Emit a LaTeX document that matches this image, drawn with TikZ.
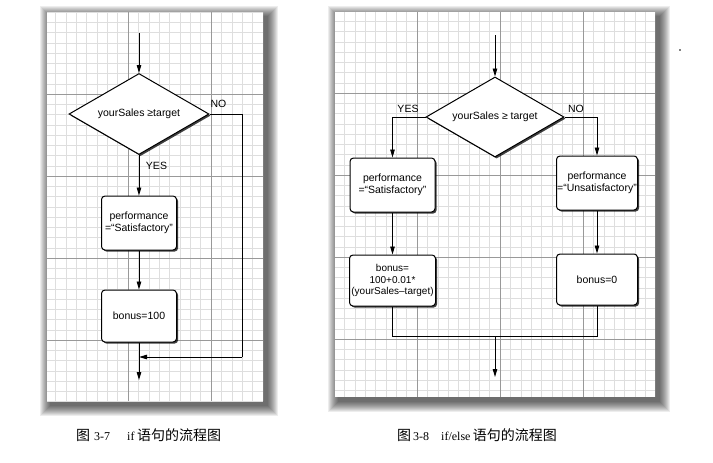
\documentclass[tikz,border=0pt]{standalone}
\usepackage{fontspec}
\setmainfont{Liberation Sans}
\newfontfamily\cjkfont{Noto Sans CJK SC}
\newfontfamily\capserif{Liberation Serif}
\usetikzlibrary{shapes.geometric,shadows,arrows.meta}
\newcommand\flowfont{\fontsize{10.5}{12}\selectfont}
\begin{document}
\begin{tikzpicture}[x=1pt,y=-1pt,
  fine/.style={draw=black!13,line width=0.5pt},
  major/.style={draw=black!40,line width=0.6pt},
  papershadow/.style={fill=black,opacity=0.07},
  conn/.style={line width=0.9pt},
  arr/.style={conn,-{Triangle[length=8pt,width=4.5pt]}},
  nshadow/.style={drop shadow={shadow xshift=1.6pt,shadow yshift=-1.6pt,opacity=0.75,fill=black}},
  proc/.style={rectangle,draw,line width=1pt,rounded corners=3.5pt,fill=white,align=center,inner sep=0pt,font=\flowfont,nshadow},
  decision/.style={diamond,draw,line width=1pt,fill=white,inner sep=0pt,aspect=1.73,font=\flowfont,nshadow},
  lab/.style={font=\flowfont,inner sep=0pt},
  capcjk/.style={font=\cjkfont\fontsize{14}{14}\selectfont,anchor=base west,inner sep=0pt},
  caplat/.style={font=\capserif\fontsize{12}{12}\selectfont,anchor=base west,inner sep=0pt}
]
\fill[white] (0,0) rectangle (713,463);
\useasboundingbox (0,0) rectangle (713,463);

% ---------- left paper ----------
\foreach \k in {1,...,11}
  \fill[papershadow] ({47+4-\k},{12+5-\k}) rectangle ({263+4+\k},{401+4+\k});
\fill[white] (47,12) rectangle (263,401);
\begin{scope}
  \clip (47,12) rectangle (263,401);
  \foreach \i in {0,...,21} \draw[fine] ({45+\i*10.375},12) -- ({45+\i*10.375},401);
  \foreach \j in {0,...,38} \draw[fine] (47,{12+\j*10.25}) -- (263,{12+\j*10.25});
  \foreach \x in {128,211} \draw[major] (\x,12) -- (\x,401);
  \foreach \y in {94,176,258,340} \draw[major] (47,\y) -- (263,\y);
\end{scope}

% ---------- right paper ----------
\foreach \k in {1,...,11}
  \fill[papershadow] ({335+4-\k},{12+5-\k}) rectangle ({655+4+\k},{397+4+\k});
\fill[white] (335,12) rectangle (655,397);
\begin{scope}
  \clip (335,12) rectangle (655,397);
  \foreach \i in {0,...,31} \draw[fine] ({334+\i*10.375},12) -- ({334+\i*10.375},397);
  \foreach \j in {0,...,38} \draw[fine] (335,{11+\j*10.25}) -- (655,{11+\j*10.25});
  \foreach \x in {417,500,583} \draw[major] (\x,12) -- (\x,397);
  \foreach \y in {93,175,257,339} \draw[major] (335,\y) -- (655,\y);
\end{scope}

% ---------- left flowchart ----------
\coordinate (Lstart) at (139,33);
\node[decision,minimum width=140pt,minimum height=81pt] (Ld) at (139,114) {yourSales ≥target};
\node[proc,minimum width=75pt,minimum height=54pt] (Lb1) at (139,223) {performance\\=“Satisfactory”};
\node[proc,minimum width=75pt,minimum height=52pt] (Lb2) at (139,316) {bonus=100};
\coordinate (Lno1) at (242,114);
\coordinate (Lno2) at (242,357);
\coordinate (Lmerge) at (139,357);
\coordinate (Lend) at (139,380);
\draw[arr] (Lstart) -- (Ld.north);
\draw[arr] (Ld.south) -- (Lb1.north);
\draw[arr] (Lb1.south) -- (Lb2.north);
\draw[arr] (Lb2.south) -- (Lend);
\draw[conn] (Ld.east) -- (Lno1) -- (Lno2);
\draw[arr] (Lno2) -- (Lmerge);
\node[lab] (Lyes) at (156.5,166) {YES};
\node[lab] (Lno) at (218.5,104) {NO};

% ---------- right flowchart ----------
\coordinate (Rstart) at (495,35);
\node[decision,minimum width=138pt,minimum height=80pt] (Rd) at (495,117) {yourSales ≥ target};
\node[proc,minimum width=85pt,minimum height=54pt] (Rl1) at (392.5,185) {performance\\=“Satisfactory”};
\node[proc,minimum width=81pt,minimum height=54pt] (Rr1) at (597,183) {performance\\=“Unsatisfactory”};
\node[proc,minimum width=86pt,minimum height=51pt,font=\fontsize{10}{11.5}\selectfont] (Rl2) at (392.5,280.5) {bonus=\\100+0.01*\\(yourSales–target)};
\node[proc,minimum width=81pt,minimum height=51pt] (Rr2) at (597,279.5) {bonus=0};
\coordinate (Ryes) at (392.5,117);
\coordinate (Rno) at (597,117);
\coordinate (Rjl) at (392.5,336);
\coordinate (Rjr) at (597,336);
\coordinate (Rjm) at (495,336);
\coordinate (Rend) at (495,377);
\draw[arr] (Rstart) -- (Rd.north);
\draw[conn] (Rd.west) -- (Ryes);
\draw[arr] (Ryes) -- (Rl1.north);
\draw[conn] (Rd.east) -- (Rno);
\draw[arr] (Rno) -- (Rr1.north);
\draw[arr] (Rl1.south) -- (Rl2.north);
\draw[arr] (Rr1.south) -- (Rr2.north);
\draw[conn] (Rl2.south) -- (Rjl) -- (Rjr) -- (Rr2.south);
\draw[arr] (Rjm) -- (Rend);
\node[lab] (Rlyes) at (408,109) {YES};
\node[lab] (Rlno) at (576,108.5) {NO};

% speck
\fill (680,50) circle (0.9);

% ---------- captions ----------
\node[capcjk] (c1a) at (76,440) {图};
\node[caplat] (c1b) at (94,440) {3-7};
\node[caplat] (c1c) at (127,440) {if};
\node[capcjk] (c1d) at (137,440) {语句的流程图};
\node[capcjk] (c2a) at (397,440) {图};
\node[caplat] (c2b) at (413,440) {3-8};
\node[caplat] (c2c) at (441,440) {if/else};
\node[capcjk] (c2d) at ([xshift=2pt]c2c.base east) {语句的流程图};
\end{tikzpicture}
\end{document}
